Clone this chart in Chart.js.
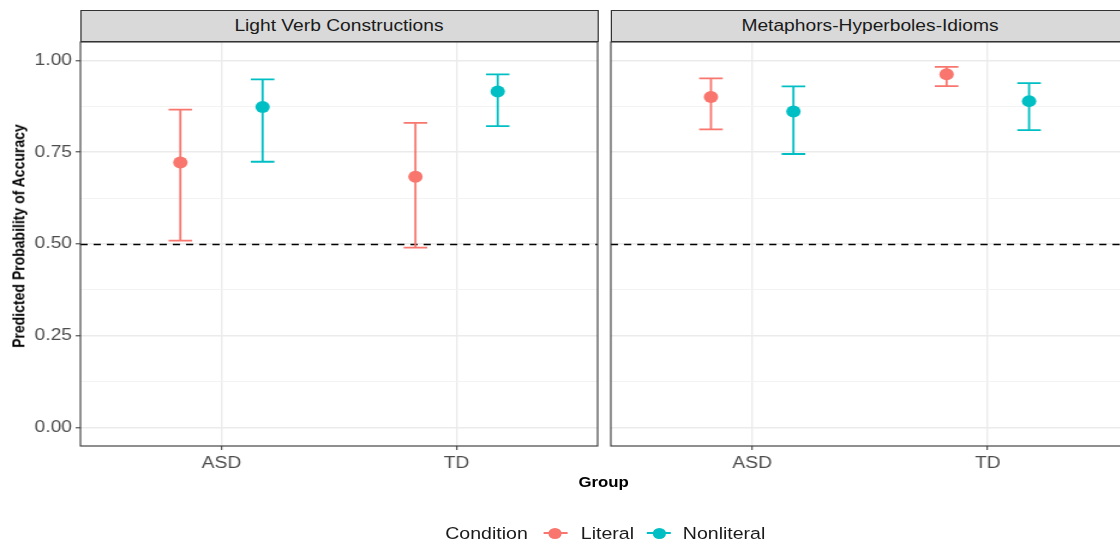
<!DOCTYPE html>
<html>
<head>
<meta charset="utf-8">
<script src="https://cdn.jsdelivr.net/npm/chart.js@4.4.1/dist/chart.umd.min.js"></script>
<style>
  html, body { margin: 0; padding: 0; background: #fff; }
  #frame { position: relative; width: 1120px; height: 544px; overflow: hidden; background: #fff; }
  /* the reference is a bit wider than tall, so everything is drawn narrow and stretched */
  #stage { position: absolute; left: 0; top: 0; width: 934px; height: 544px;
           transform: scaleX(1.2); transform-origin: 0 0;
           font-family: "Liberation Sans", Arial, sans-serif; }
  canvas { position: absolute; top: 0; }
  .strip { position: absolute; top: 10px; height: 32px; box-sizing: border-box;
           border: 1px solid #333; background: #d9d9d9; color: #1a1a1a;
           font-size: 16px; line-height: 30px; text-align: center; white-space: nowrap; }
  .ytitle { position: absolute; left: 14.6px; top: 236px; font-size: 14px; font-weight: bold;
            color: #000; white-space: nowrap; transform: translate(-50%, -50%) rotate(-90deg); }
  .xtitle { position: absolute; left: 503px; top: 482px; font-size: 14px; font-weight: bold;
            color: #000; transform: translate(-50%, -50%); }
  .lg { position: absolute; top: 524px; font-size: 16.3px; line-height: 18px; color: #1a1a1a; white-space: nowrap; }
  .key { position: absolute; top: 532px; width: 20px; height: 2px; }
  .key span { position: absolute; left: 4.5px; top: -4.5px; width: 11px; height: 11px; border-radius: 50%; }
</style>
</head>
<body>
<div id="frame">
  <div id="stage">
    <canvas id="p1" width="506" height="544" style="left:0px"></canvas>
    <canvas id="p2" width="507" height="544" style="left:442px"></canvas>
    <div class="strip" id="s1" style="left:66.5px; width:432px;"></div>
    <div class="strip" id="s2" style="left:508.5px; width:433px;"></div>
    <div class="ytitle">Predicted Probability of Accuracy</div>
    <div class="xtitle">Group</div>
    <div class="lg" style="left:371px">Condition</div>
    <div class="key" id="k1" style="left:452.5px"><span></span></div>
    <div class="lg" id="l1" style="left:484px"></div>
    <div class="key" id="k2" style="left:539px"><span></span></div>
    <div class="lg" id="l2" style="left:569px"></div>
  </div>
</div>
<script>
const panels = ["Light Verb Constructions", "Metaphors-Hyperboles-Idioms"];
const groups = ["ASD", "TD"];
const conditions = ["Literal", "Nonliteral"];
const colors = ["#F8766D", "#00BFC4"];

// Light Verb Constructions
const lvcLiteralFit = [0.722, 0.683];
const lvcLiteralLow = [0.509, 0.490];
const lvcLiteralHigh = [0.866, 0.830];
const lvcNonliteralFit = [0.873, 0.915];
const lvcNonliteralLow = [0.724, 0.821];
const lvcNonliteralHigh = [0.948, 0.962];

// Metaphors-Hyperboles-Idioms
const mhiLiteralFit = [0.900, 0.962];
const mhiLiteralLow = [0.812, 0.930];
const mhiLiteralHigh = [0.951, 0.982];
const mhiNonliteralFit = [0.861, 0.889];
const mhiNonliteralLow = [0.745, 0.810];
const mhiNonliteralHigh = [0.929, 0.938];

const yMajor = [0, 0.25, 0.5, 0.75, 1];
const yMinor = [0.125, 0.375, 0.625, 0.875];
const yTickLabels = ["0.00", "0.25", "0.50", "0.75", "1.00"];
const chance = 0.5;

const dodge = 0.175;   // condition offset within a group
const capHalf = 0.05;  // half width of the error bar caps

Chart.defaults.font.family = '"Liberation Sans", Arial, sans-serif';

function puntos(fit, low, high, k) {
  return groups.map((g, i) => ({
    x: i + 1 + (k === 0 ? -dodge : dodge),
    y: fit[i], lo: low[i], hi: high[i]
  }));
}

const extras = {
  id: "extras",
  beforeDatasetsDraw(chart) {
    const { ctx, chartArea: a, scales: { x, y } } = chart;
    // linea de azar
    const yc = Math.round(y.getPixelForValue(chance)) + 0.5;
    ctx.save();
    ctx.strokeStyle = "#000";
    ctx.lineWidth = 1.3;
    ctx.setLineDash([6, 5]);
    ctx.beginPath();
    ctx.moveTo(a.left, yc);
    ctx.lineTo(a.right, yc);
    ctx.stroke();
    ctx.restore();

    // barras de error
    chart.data.datasets.forEach((ds) => {
      ctx.save();
      ctx.strokeStyle = ds.borderColor;
      ctx.lineWidth = 1.8;
      ds.data.forEach((p) => {
        const px = x.getPixelForValue(p.x);
        const x0 = x.getPixelForValue(p.x - capHalf);
        const x1 = x.getPixelForValue(p.x + capHalf);
        const yl = y.getPixelForValue(p.lo);
        const yh = y.getPixelForValue(p.hi);
        ctx.beginPath();
        ctx.moveTo(px, yl); ctx.lineTo(px, yh);
        ctx.moveTo(x0, yh); ctx.lineTo(x1, yh);
        ctx.moveTo(x0, yl); ctx.lineTo(x1, yl);
        ctx.stroke();
      });
      ctx.restore();
    });
  },
  afterDraw(chart) {
    const { ctx, chartArea: a } = chart;
    ctx.save();
    ctx.strokeStyle = "#333";
    ctx.lineWidth = 1.1;
    ctx.strokeRect(a.left, a.top, a.right - a.left, a.bottom - a.top);
    ctx.restore();
  }
};

function crearPanel(id, series, showY) {
  const ctx = document.getElementById(id).getContext("2d");
  return new Chart(ctx, {
    type: "scatter",
    data: {
      datasets: series.map((s, k) => ({
        label: conditions[k],
        data: puntos(s[0], s[1], s[2], k),
        backgroundColor: colors[k],
        borderColor: colors[k],
        borderWidth: 0,
        pointRadius: 6,
        pointHoverRadius: 6
      }))
    },
    options: {
      responsive: false,
      animation: false,
      devicePixelRatio: 1,
      events: [],
      layout: { padding: { top: 42, right: 8, bottom: 68, left: 0 } },
      plugins: { legend: { display: false }, tooltip: { enabled: false } },
      scales: {
        x: {
          type: "linear",
          min: 0.4,
          max: 2.6,
          afterBuildTicks: (s) => { s.ticks = groups.map((g, i) => ({ value: i + 1 })); },
          afterFit: (s) => { s.height = 30; },
          border: { display: false },
          grid: { color: "#EBEBEB", lineWidth: 1.4, tickColor: "#333", tickWidth: 1, tickLength: 4 },
          ticks: {
            callback: (v) => groups[v - 1] || "",
            color: "#4D4D4D",
            font: { size: 16 },
            padding: 4,
            autoSkip: false,
            maxRotation: 0
          }
        },
        y: {
          min: -0.05,
          max: 1.05,
          afterBuildTicks: (s) => {
            s.ticks = yMajor.concat(yMinor).sort((a, b) => a - b).map((v) => ({ value: v }));
          },
          afterFit: (s) => { s.width = 67; },
          border: { display: false },
          grid: {
            color: (c) => (c.tick && yMajor.includes(c.tick.value) ? "#EBEBEB" : "#F2F2F2"),
            lineWidth: (c) => (c.tick && yMajor.includes(c.tick.value) ? 1.6 : 0.9),
            tickColor: (c) => (showY && c.tick && yMajor.includes(c.tick.value) ? "#333" : "rgba(0,0,0,0)"),
            tickWidth: 1,
            tickLength: 4
          },
          ticks: {
            display: showY,
            callback: (v) => {
              const k = yMajor.indexOf(v);
              return k >= 0 ? yTickLabels[k] : "";
            },
            color: "#4D4D4D",
            font: { size: 16 },
            padding: 3,
            autoSkip: false
          }
        }
      }
    },
    plugins: [extras]
  });
}

crearPanel("p1", [
  [lvcLiteralFit, lvcLiteralLow, lvcLiteralHigh],
  [lvcNonliteralFit, lvcNonliteralLow, lvcNonliteralHigh]
], true);

crearPanel("p2", [
  [mhiLiteralFit, mhiLiteralLow, mhiLiteralHigh],
  [mhiNonliteralFit, mhiNonliteralLow, mhiNonliteralHigh]
], false);

document.getElementById("s1").textContent = panels[0];
document.getElementById("s2").textContent = panels[1];
document.getElementById("l1").textContent = conditions[0];
document.getElementById("l2").textContent = conditions[1];
["k1", "k2"].forEach((id, k) => {
  const key = document.getElementById(id);
  key.style.background = colors[k];
  key.firstChild.style.background = colors[k];
});
</script>
</body>
</html>
